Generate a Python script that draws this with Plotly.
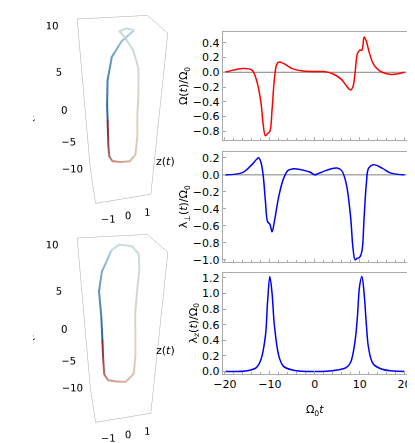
import plotly.graph_objects as go

# Right panels data
t_om = [-20,-16,-14,-13,-12,-11.5,-11,-10.5,-10,-9.5,-9,-8.5,-8,-7,-5,-3,0,2,4,6,7,8,8.5,9,9.5,10,10.5,11,11.5,12,13,14,15,17,20]
om = [0,0.05,0.03,-0.1,-0.4,-0.7,-0.86,-0.83,-0.8,-0.5,-0.1,0.1,0.14,0.12,0.05,0.02,0.01,0.01,-0.02,-0.1,-0.18,-0.24,-0.2,0,0.25,0.3,0.3,0.48,0.42,0.3,0.12,0.04,0,-0.03,0]
t_lp = [-20,-16,-14,-13,-12.5,-12,-11.5,-11,-10.5,-10,-9.5,-9,-8,-7,-6,-5,-3,-1,0,1,3,5,6,7,8,8.5,9,9.5,10,10.5,11,11.5,12,13,15,17,20]
lp = [0,0.03,0.12,0.18,0.2,0.15,0,-0.3,-0.55,-0.58,-0.67,-0.55,-0.25,-0.05,0.05,0.07,0.06,0.03,0,0.02,0.06,0.08,0.05,-0.1,-0.5,-0.85,-1.0,-0.98,-0.97,-0.9,-0.5,-0.1,0.08,0.12,0.08,0.02,0]
t_lz = [-20,-15,-13,-12,-11,-10.5,-10,-9.5,-9,-8,-7,-5,0,5,7,8,9,9.5,10,10.5,11,11.5,12,13,15,20]
lz = [0,0.01,0.05,0.15,0.45,0.9,1.22,1.0,0.6,0.2,0.07,0.02,0,0.02,0.05,0.12,0.4,0.7,1.1,1.22,1.0,0.6,0.3,0.1,0.03,0]

# 3D trajectories (y(t), z(t), x(t), colour parameter)
y1 = [0.6,0.1,-0.3,-0.5,-0.55,-0.55,-0.55,-0.55,-0.5,-0.3,0.2,0.7,0.9,0.95,0.9,0.9,0.85,0.6,0.2,0.0,0.3,0.6]
z1 = [0,0,0,0,0,0,0,0,0.1,0.3,0.5,0.3,0,0,0,0,0,0,0,0,0,0]
x1 = [10,9,7.5,5,2,0.1,-0.1,-4,-6,-7.5,-8.5,-8,-6,-3,0,3,6,8,9.5,10,10.2,10]
c1 = [0.02,0.1,0.2,0.27,0.33,0.35,0.36,0.45,0.52,0.58,0.65,0.72,0.78,0.82,0.86,0.89,0.92,0.95,0.97,0.98,0.99,1.0]
y2 = [-0.3,-0.7,-0.85,-0.8,-0.8,-0.8,-0.8,-0.75,-0.5,0.0,0.5,0.8,0.85,0.8,0.75,0.8,0.85,0.8,0.5,0.0,-0.3]
z2 = [0,0,0,0,0,0,0,0.2,0.5,0.6,0.4,0,0,0,0,0,0,0,0,0,0]
x2 = [10,8,6,3,0.1,-0.1,-3,-6,-8,-8.8,-8.5,-6,-3,0,3,6,8,9.5,10.3,10.5,10]
c2 = [0.05,0.15,0.22,0.29,0.35,0.36,0.45,0.53,0.6,0.67,0.73,0.78,0.82,0.86,0.89,0.92,0.94,0.96,0.98,0.99,1.0]

cs = [[0,'#c2dfe4'],[0.35,'#2a66a3'],[0.355,'#7c1e2c'],[0.6,'#cf8f84'],[0.82,'#e3cfb6'],[1,'#c2dfe4']]

fig = go.Figure()
for y, z, x, c, sc in [(y1,z1,x1,c1,'scene'),(y2,z2,x2,c2,'scene2')]:
    fig.add_trace(go.Scatter3d(x=y, y=z, z=x, mode='lines', scene=sc,
        line=dict(width=4, color=c, colorscale=cs, cmin=0, cmax=1), showlegend=False, hoverinfo='skip'))

for tt, vv, col, ax in [(t_om,om,'red','1'),(t_lp,lp,'blue','2'),(t_lz,lz,'blue','3')]:
    fig.add_trace(go.Scatter(x=tt, y=vv, mode='lines', line=dict(color=col, width=1.5, shape='spline'),
        xaxis='x'+ax if ax!='1' else 'x', yaxis='y'+ax if ax!='1' else 'y', showlegend=False))

font = dict(family='DejaVu Sans', size=11, color='black')
def ax3(title, tv, rng):
    return dict(title=dict(text=title, font=font), tickvals=tv, range=rng, showgrid=False, showbackground=False,
                zeroline=False, showline=True, linecolor='#aaaaaa', mirror=True, tickfont=font, showspikes=False,
                ticks='', tickangle=0)
for name, dom in [('scene',[0.5,1.0]),('scene2',[0.0,0.5])]:
    fig.update_layout({name: dict(domain=dict(x=[0.04,0.47], y=dom),
        xaxis=ax3('y(<i>t</i>)',[-1,0,1],[-1.5,1.5]),
        yaxis=ax3('',[],[-1,1]),
        zaxis=ax3('x(<i>t</i>)',[-10,-5,0,5,10],[-10.5,10.5]),
        aspectmode='manual', aspectratio=dict(x=0.52,y=0.44,z=1.5),
        camera=dict(eye=dict(x=-0.35,y=-1.75,z=1.25), up=dict(x=0,y=0,z=1)))})

common = dict(showline=True, mirror=True, linecolor='#aaaaaa', ticks='inside', ticklen=3,
              tickcolor='#aaaaaa', tickfont=font, showgrid=False, zeroline=False)
doms = [[0.70,0.948],[0.422,0.673],[0.165,0.397]]
titles = ['Ω(<i>t</i>)/Ω<sub>0</sub>','λ<sub>⊥</sub>(<i>t</i>)/Ω<sub>0</sub>','λ<sub>z</sub>(<i>t</i>)/Ω<sub>0</sub>']
yr = [dict(range=[-0.92,0.55], dtick=0.2, tickformat='.1f'), dict(range=[-1.02,0.27], dtick=0.2, tickformat='.1f'),
      dict(range=[-0.03,1.27], dtick=0.2, tickformat='.1f')]
for i in range(3):
    s = '' if i == 0 else str(i+1)
    fig.update_layout({'xaxis'+s: dict(domain=[0.513,0.972], range=[-20.5,20.5], anchor='y'+s,
                        showticklabels=(i==2), tickvals=[-20,-10,0,10,20], minor=dict(dtick=2, ticks='inside', ticklen=2, tickcolor='#aaaaaa'),
                        title=dict(text='Ω<sub>0</sub><i>t</i>', font=font) if i==2 else None, **common),
                       'yaxis'+s: dict(domain=doms[i], anchor='x'+s, title=dict(text=titles[i], font=font, standoff=2),
                        **yr[i], **common)})
for i in range(2):
    s = '' if i == 0 else str(i+1)
    fig.add_shape(type='line', xref='x'+s, yref='y'+s, x0=-20.5, x1=20.5, y0=0, y1=0, line=dict(color='gray', width=1), layer='below')
for yy in [0.67, 0.2]:
    fig.add_annotation(text='z(<i>t</i>)', x=0.37, y=yy, xref='paper', yref='paper', showarrow=False, font=font)

fig.update_layout(width=415, height=443, margin=dict(l=0,r=0,t=0,b=0), paper_bgcolor='white', plot_bgcolor='white')
fig.write_html('out.html')
